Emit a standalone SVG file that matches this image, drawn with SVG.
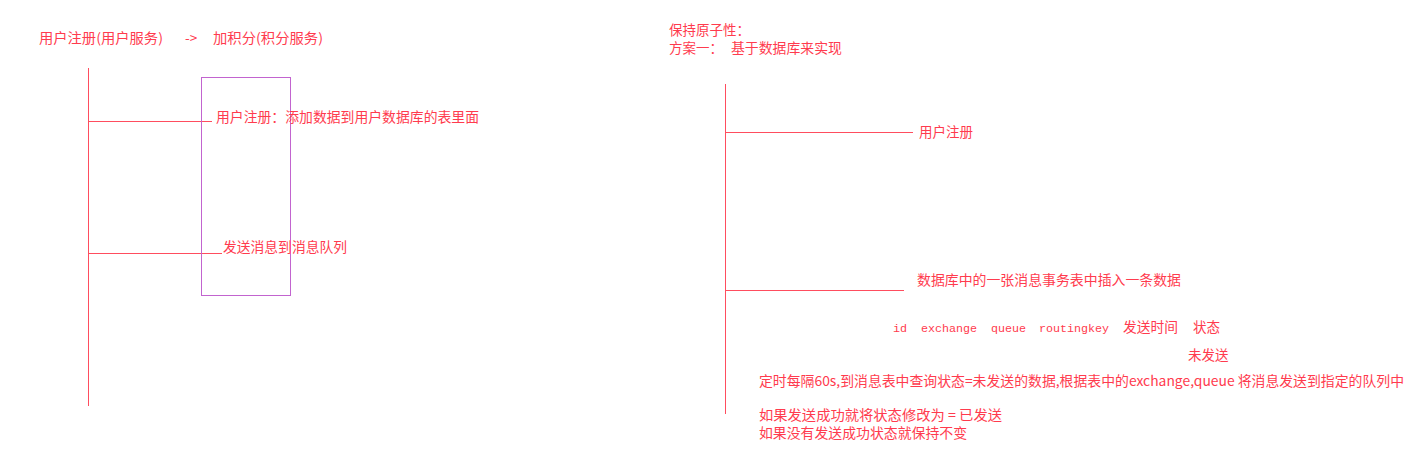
<svg xmlns="http://www.w3.org/2000/svg" width="1418" height="463" viewBox="0 0 1418 463">
<style>
.t{font-family:"Noto Sans CJK SC","Liberation Sans",sans-serif;font-size:13.5px;fill:#ff3b4e}
.m{font-family:"Liberation Mono",monospace;font-size:11.7px;fill:#ff3b4e}
.ln{stroke:#ff4d5e;stroke-width:1;fill:none}
.box{stroke:#c264cf;stroke-width:1;fill:none}
</style>
<rect width="1418" height="463" fill="#ffffff"/>
<g id="connectors">
<line class="ln" x1="88.5" y1="68" x2="88.5" y2="406"/>
<line class="ln" x1="88" y1="121.5" x2="212" y2="121.5"/>
<line class="ln" x1="88" y1="253.5" x2="222" y2="253.5"/>
<line class="ln" x1="725.5" y1="84" x2="725.5" y2="414"/>
<line class="ln" x1="726" y1="132.5" x2="913" y2="132.5"/>
<line class="ln" x1="726" y1="290.5" x2="904" y2="290.5"/>
</g>
<g id="box">
<rect class="box" x="201.5" y="77.5" width="89" height="218"/>
</g>
<g id="title-left">
<text class="t" x="39" y="43" textLength="124" lengthAdjust="spacingAndGlyphs">用户注册(用户服务)</text>
<text class="t" x="185" y="43">-&gt;</text>
<text class="t" x="213" y="43" textLength="110" lengthAdjust="spacingAndGlyphs">加积分(积分服务)</text>
</g>
<g id="node-register">
<text class="t" x="216" y="122" textLength="263" lengthAdjust="spacingAndGlyphs">用户注册：添加数据到用户数据库的表里面</text>
</g>
<g id="node-send">
<text class="t" x="223" y="252" textLength="124" lengthAdjust="spacingAndGlyphs">发送消息到消息队列</text>
</g>
<g id="title-right">
<text class="t" x="669" y="35">保持原子性：</text>
<text class="t" x="669" y="53">方案一：</text>
<text class="t" x="731" y="53" textLength="111" lengthAdjust="spacingAndGlyphs">基于数据库来实现</text>
</g>
<g id="node-user-register">
<text class="t" x="919" y="137">用户注册</text>
</g>
<g id="node-insert">
<text class="t" x="917" y="285" textLength="264" lengthAdjust="spacingAndGlyphs">数据库中的一张消息事务表中插入一条数据</text>
</g>
<g id="node-columns">
<text class="m" x="893" y="332">id</text>
<text class="m" x="921" y="332">exchange</text>
<text class="m" x="991" y="332">queue</text>
<text class="m" x="1039" y="332">routingkey</text>
<text class="t" x="1123" y="332" textLength="55" lengthAdjust="spacingAndGlyphs">发送时间</text>
<text class="t" x="1193" y="332">状态</text>
<text class="t" x="1188" y="360">未发送</text>
</g>
<g id="node-timer">
<text class="t" x="759" y="386" textLength="645" lengthAdjust="spacingAndGlyphs">定时每隔60s,到消息表中查询状态=未发送的数据,根据表中的exchange,queue 将消息发送到指定的队列中</text>
<text class="t" x="759" y="420" textLength="243" lengthAdjust="spacingAndGlyphs">如果发送成功就将状态修改为 = 已发送</text>
<text class="t" x="759" y="438" textLength="208" lengthAdjust="spacingAndGlyphs">如果没有发送成功状态就保持不变</text>
</g>
</svg>
